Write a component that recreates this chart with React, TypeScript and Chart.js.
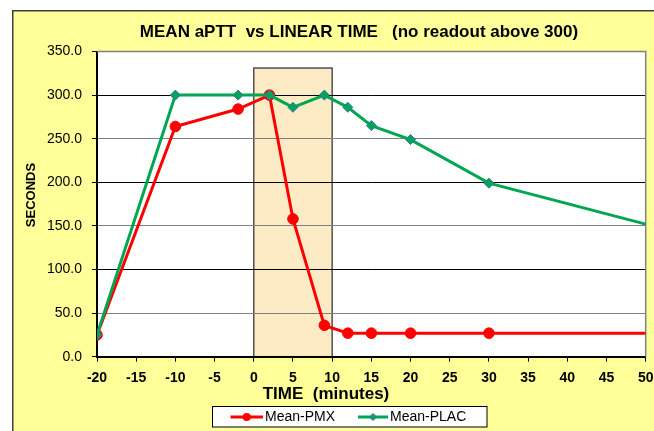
import React, { useEffect, useRef } from 'react';
import { Chart, registerables } from 'chart.js';

Chart.register(...registerables);

const W = 654;
const H = 431;

const timePoints = [-20, -10, -2, 2, 5, 9, 12, 15, 20, 30, 50];
const pmxValues = [25, 264, 284, 300, 158, 36, 27, 27, 27, 27, 27];
const placValues = [25, 300, 300, 300, 286, 300, 286, 265, 249, 199, 152];
const seriesLabels = ['Mean-PMX', 'Mean-PLAC'];
const seriesColors = ['#FF0000', '#00A651'];
const chartTitle = 'MEAN aPTT  vs LINEAR TIME   (no readout above 300)';
const xAxisTitle = 'TIME  (minutes)';
const yAxisTitle = 'SECONDS';
const infusionWindow = [0, 10];
const infusionTop = 331;

const FONT = '"Liberation Sans", Arial, Helvetica, sans-serif';

const decorPlugin = {
  id: 'decor',
  beforeDraw(chart: any) {
    const { ctx, chartArea: a, scales } = chart;
    ctx.save();
    ctx.fillStyle = '#FFFFFF';
    ctx.fillRect(0, 0, W, H);
    ctx.fillStyle = '#FFFF99';
    ctx.fillRect(12, 10, W, H);
    ctx.strokeStyle = '#404040';
    ctx.lineWidth = 1.5;
    ctx.strokeRect(12.75, 10.75, W + 20, H + 20);
    ctx.fillStyle = '#FFFFFF';
    ctx.fillRect(a.left, a.top, a.right - a.left, a.bottom - a.top);
    const x0 = scales.x.getPixelForValue(infusionWindow[0]);
    const x1 = scales.x.getPixelForValue(infusionWindow[1]);
    const y0 = scales.y.getPixelForValue(0);
    const y1 = scales.y.getPixelForValue(infusionTop);
    ctx.fillStyle = '#FCEBC4';
    ctx.fillRect(x0, y1, x1 - x0, y0 - y1);
    ctx.strokeStyle = '#505050';
    ctx.lineWidth = 1.5;
    ctx.strokeRect(x0, y1, x1 - x0, y0 - y1);
    ctx.restore();
  },
  beforeDatasetsDraw(chart: any) {
    const { ctx, chartArea: a } = chart;
    ctx.save();
    ctx.strokeStyle = '#808080';
    ctx.lineWidth = 1.5;
    ctx.beginPath();
    ctx.moveTo(a.left, a.top);
    ctx.lineTo(a.right, a.top);
    ctx.lineTo(a.right, a.bottom);
    ctx.stroke();
    ctx.restore();
  },
  afterDraw(chart: any) {
    const { ctx } = chart;
    ctx.save();
    ctx.fillStyle = '#000000';
    ctx.textAlign = 'center';
    ctx.textBaseline = 'middle';
    ctx.font = `bold 17px ${FONT}`;
    ctx.fillText(chartTitle, 359, 32.5);
    ctx.fillText(xAxisTitle, 326, 394);
    ctx.save();
    ctx.translate(31.7, 195);
    ctx.rotate(-Math.PI / 2);
    ctx.font = `bold 13px ${FONT}`;
    ctx.fillText(yAxisTitle, 0, 0);
    ctx.restore();

    // legend
    ctx.fillStyle = '#FFFFFF';
    ctx.fillRect(212.5, 406.5, 274.5, 20.5);
    ctx.strokeStyle = '#000000';
    ctx.lineWidth = 1;
    ctx.strokeRect(212.5, 406.5, 274.5, 20.5);
    const ly = 417;
    const items = [
      { x0: 230.5, x1: 263, tx: 265 },
      { x0: 358, x1: 388, tx: 390 },
    ];
    items.forEach((it, i) => {
      const ds = chart.data.datasets[i];
      ctx.strokeStyle = ds.borderColor;
      ctx.lineWidth = 3;
      ctx.beginPath();
      ctx.moveTo(it.x0, ly);
      ctx.lineTo(it.x1, ly);
      ctx.stroke();
      const cx = (it.x0 + it.x1) / 2;
      if (i === 0) {
        ctx.fillStyle = ds.backgroundColor;
        ctx.beginPath();
        ctx.arc(cx, ly, 4, 0, Math.PI * 2);
        ctx.fill();
      } else {
        ctx.fillStyle = ds.pointBackgroundColor;
        ctx.strokeStyle = ds.pointBorderColor;
        ctx.lineWidth = 1;
        ctx.beginPath();
        ctx.moveTo(cx, ly - 3.5);
        ctx.lineTo(cx + 3.5, ly);
        ctx.lineTo(cx, ly + 3.5);
        ctx.lineTo(cx - 3.5, ly);
        ctx.closePath();
        ctx.fill();
        ctx.stroke();
      }
      ctx.fillStyle = '#000000';
      ctx.textAlign = 'left';
      ctx.font = `14px ${FONT}`;
      ctx.fillText(ds.label, it.tx, ly);
    });
    ctx.restore();
  },
};

export default function App() {
  const canvasRef = useRef<HTMLCanvasElement | null>(null);

  useEffect(() => {
    const canvas = canvasRef.current;
    if (!canvas) return;
    const last = timePoints.length - 1;
    const chart = new Chart(canvas, {
      type: 'line',
      data: {
        datasets: [
          {
            label: seriesLabels[0],
            data: timePoints.map((x, i) => ({ x, y: pmxValues[i] })),
            borderColor: seriesColors[0],
            backgroundColor: seriesColors[0],
            pointBackgroundColor: seriesColors[0],
            pointBorderColor: seriesColors[0],
            borderWidth: 3,
            pointStyle: 'circle',
            pointRadius: (c: any) => (c.dataIndex === last ? 0 : 5.3),
            pointBorderWidth: 1,
            tension: 0,
            order: 1,
          },
          {
            label: seriesLabels[1],
            data: timePoints.map((x, i) => ({ x, y: placValues[i] })),
            borderColor: seriesColors[1],
            backgroundColor: seriesColors[1],
            pointBackgroundColor: seriesColors[1],
            pointBorderColor: '#3F6FB5',
            borderWidth: 3,
            pointStyle: 'rectRot',
            pointRadius: (c: any) => (c.dataIndex === last ? 0 : 5),
            pointBorderWidth: 1,
            tension: 0,
            order: 0,
          },
        ],
      },
      options: {
        responsive: false,
        animation: false,
        devicePixelRatio: 1,
        layout: { padding: { left: 0, top: 51.5, right: 8.3, bottom: 0 } },
        plugins: {
          legend: { display: false },
          title: { display: false },
          tooltip: { enabled: false },
        },
        scales: {
          x: {
            type: 'linear',
            min: -20,
            max: 50,
            afterFit: (s: any) => {
              s.height = H - 356.7;
              s.paddingLeft = 0;
              s.paddingRight = 0;
            },
            ticks: {
              stepSize: 5,
              color: '#000',
              padding: 8,
              font: { family: FONT, size: 14, weight: 'bold' },
            },
            grid: {
              drawOnChartArea: false,
              tickLength: 5,
              tickColor: '#000',
              tickWidth: 1,
            },
            border: { color: '#000', width: 2 },
          },
          y: {
            min: 0,
            max: 350,
            afterFit: (s: any) => {
              s.width = 97;
              s.paddingTop = 0;
              s.paddingBottom = 0;
            },
            ticks: {
              stepSize: 50,
              color: '#000',
              padding: 10,
              font: { family: FONT, size: 14 },
              callback: (v: any) => Number(v).toFixed(1),
            },
            grid: {
              color: (c: any) => (c.index % 2 === 1 ? '#808080' : '#000000'),
              lineWidth: 1,
              tickLength: 5,
              tickColor: '#000',
              tickWidth: 1,
            },
            border: { color: '#000', width: 2 },
          },
        },
      },
      plugins: [decorPlugin],
    });
    return () => chart.destroy();
  }, []);

  return (
    <div style={{ position: 'fixed', left: 0, top: 0, width: W, height: H, overflow: 'hidden', background: '#fff' }}>
      <canvas ref={canvasRef} width={W} height={H} style={{ display: 'block', width: W, height: H }} />
    </div>
  );
}
